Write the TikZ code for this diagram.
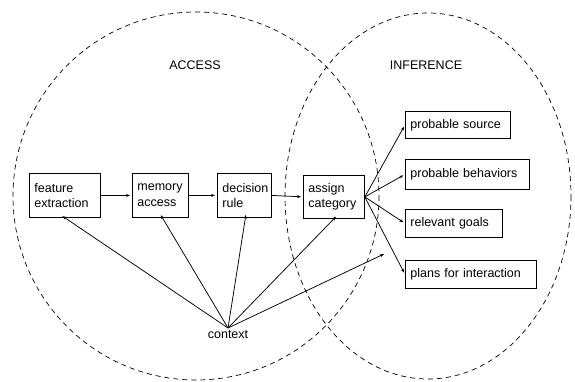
\documentclass[tikz,border=0pt]{standalone}
\usepackage{fontspec}
\setmainfont{Liberation Sans}
\usetikzlibrary{arrows.meta}
\tikzset{
  region/.style={draw, line width=0.7pt, dash pattern=on 5pt off 4pt},
  box/.style={draw, line width=0.8pt, anchor=north west, inner xsep=5pt, inner ysep=1pt, align=left,
    font=\fontsize{12.5}{15.5}\selectfont},
  lbl/.style={font=\fontsize{12.5}{15.5}\selectfont},
  conn/.style={line width=0.75pt, -{Stealth[length=4pt,width=3pt]}, shorten >=2pt},
}
\begin{document}
\begin{tikzpicture}[x=1pt,y=-1pt]
\useasboundingbox (0,0) rectangle (575,382);
% regions
\draw[region] (196,196) ellipse [x radius=183, y radius=184];
\draw[region] (428,196) ellipse [x radius=143, y radius=183];
\node[lbl] (accesslbl) at (195,65) {ACCESS};
\node[lbl] (inflbl) at (426,65) {INFERENCE};
% boxes
\node[box, minimum width=71pt, minimum height=44pt, text width=61pt] (fe) at (29,173) {feature\\extraction};
\node[box, minimum width=56pt, minimum height=44pt, text width=46pt] (ma) at (132,173) {memory\\access};
\node[box, minimum width=54pt, minimum height=44pt, text width=44pt] (dr) at (217,173) {decision\\rule};
\node[box, minimum width=61pt, minimum height=43pt, text width=51pt] (ac) at (303,175) {assign\\category};
\node[box, minimum width=105pt, minimum height=27pt, text width=95pt] (ps) at (405,111) {probable source};
\node[box, minimum width=124pt, minimum height=30pt, text width=114pt] (pb) at (405,159) {probable behaviors};
\node[box, minimum width=97pt, minimum height=28pt, text width=87pt] (rg) at (405,209) {relevant goals};
\node[box, minimum width=131pt, minimum height=28pt, text width=121pt] (pi) at (405,260) {plans for interaction};
\node[lbl, anchor=north, inner sep=1pt] (ctx) at (228,329) {context};
\coordinate (apex) at (228,328);
\coordinate (free) at (384,254);
% chain
\draw[conn] (fe.east) -- (ma.west);
\draw[conn] (ma.east) -- (dr.west);
\draw[conn] (dr.east) -- (ac.west);
% inferences
\draw[conn] (ac.east) -- (ps.west);
\draw[conn] (ac.east) -- (pb.west);
\draw[conn] (ac.east) -- (rg.west);
\draw[conn] (ac.east) -- (pi.west);
% context
\draw[conn, shorten >=-3pt] (apex) -- (fe.south);
\draw[conn, shorten >=-3pt] (apex) -- ([xshift=2pt]ma.south);
\draw[conn, shorten >=-3pt] (apex) -- ([xshift=1pt]dr.south);
\draw[conn, shorten >=-3pt] (apex) -- (ac.south);
\draw[conn, shorten >=0pt] (apex) -- (free);
\end{tikzpicture}
\end{document}
